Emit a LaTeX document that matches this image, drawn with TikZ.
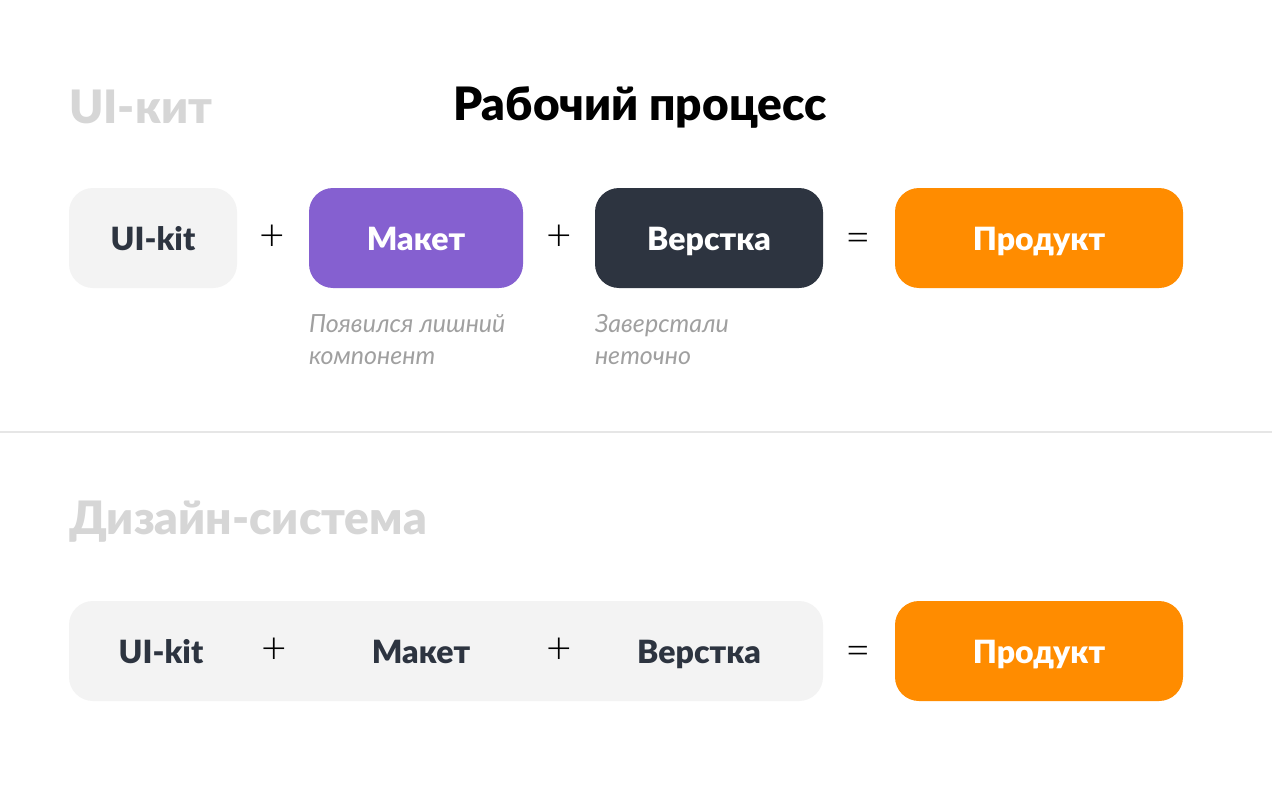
\documentclass[tikz,border=0pt]{standalone}
\usepackage{fontspec}
\setmainfont{Lato}[BoldFont={Lato Black}]
\newfontfamily\thinfont{Lato Light}
\usetikzlibrary{positioning}

\definecolor{dark}{HTML}{2D3440}
\definecolor{faint}{HTML}{D6D6D6}
\definecolor{pale}{HTML}{F3F3F3}
\definecolor{violet}{HTML}{8560D0}
\definecolor{orange}{HTML}{FF8C00}
\definecolor{note}{HTML}{A0A0A0}
\definecolor{rule}{HTML}{E6E6E6}

\begin{document}
\begin{tikzpicture}[x=1pt,y=-1pt,
  box/.style={rounded corners=24pt, minimum height=100pt, inner sep=0pt,
    text height=24pt, text depth=0pt,
    font=\fontsize{32}{32}\selectfont\bfseries},
  op/.style={font=\fontsize{44}{44}\selectfont\thinfont, inner sep=0pt},
  plain/.style={font=\fontsize{32}{32}\selectfont\bfseries, text=dark, inner sep=0pt,
    text height=24pt, text depth=0pt},
  head/.style={anchor=base west, text=faint, inner sep=0pt,
    font=\fontsize{46}{46}\selectfont\bfseries},
  remark/.style={anchor=north west, text=note, align=left, inner sep=0pt,
    font=\fontsize{25}{32}\selectfont\itshape}]

  \useasboundingbox[fill=white] (0,0) rectangle (1280,800);

  \node[anchor=base] (title) at (640,121) {\fontsize{46}{46}\selectfont\bfseries Рабочий процесс};
  \node[head] (h1) at (69,123) {UI-кит};

  \node[box, fill=pale, text=dark, minimum width=168pt] (p0) at (153,238) {UI-kit};
  \node[op] (s0) at (272,238) {+};
  \node[box, fill=violet, text=white, minimum width=214pt] (p1) at (416,238) {Макет};
  \node[op] (s1) at (559,238) {+};
  \node[box, fill=dark, text=white, minimum width=228pt] (p2) at (709,238) {Верстка};
  \node[op] (e0) at (858,243) {=};
  \node[box, fill=orange, text=white, minimum width=288pt] (p3) at (1039,238) {Продукт};

  \node[remark] (n1) [below=26pt of p1.south west, anchor=north west] {Появился лишний\\компонент};
  \node[remark] (n2) [below=26pt of p2.south west, anchor=north west] {Заверстали\\неточно};

  \coordinate (l0) at (0,432);
  \coordinate (l1) at (1272,432);
  \draw[rule, line width=2pt] (l0) -- (l1);

  \node[head] (h2) at (69,534) {Дизайн-система};

  \node[box, fill=pale, minimum width=754pt] (q) at (446,651) {};
  \node[plain] (q0) at (161,651) {UI-kit};
  \node[op] (t0) at (274,651) {+};
  \node[plain] (q1) at (421,651) {Макет};
  \node[op] (t1) at (559,651) {+};
  \node[plain] (q2) at (699,651) {Верстка};
  \node[op] (e1) at (858,656) {=};
  \node[box, fill=orange, text=white, minimum width=288pt] (q3) at (1039,651) {Продукт};

\end{tikzpicture}
\end{document}
